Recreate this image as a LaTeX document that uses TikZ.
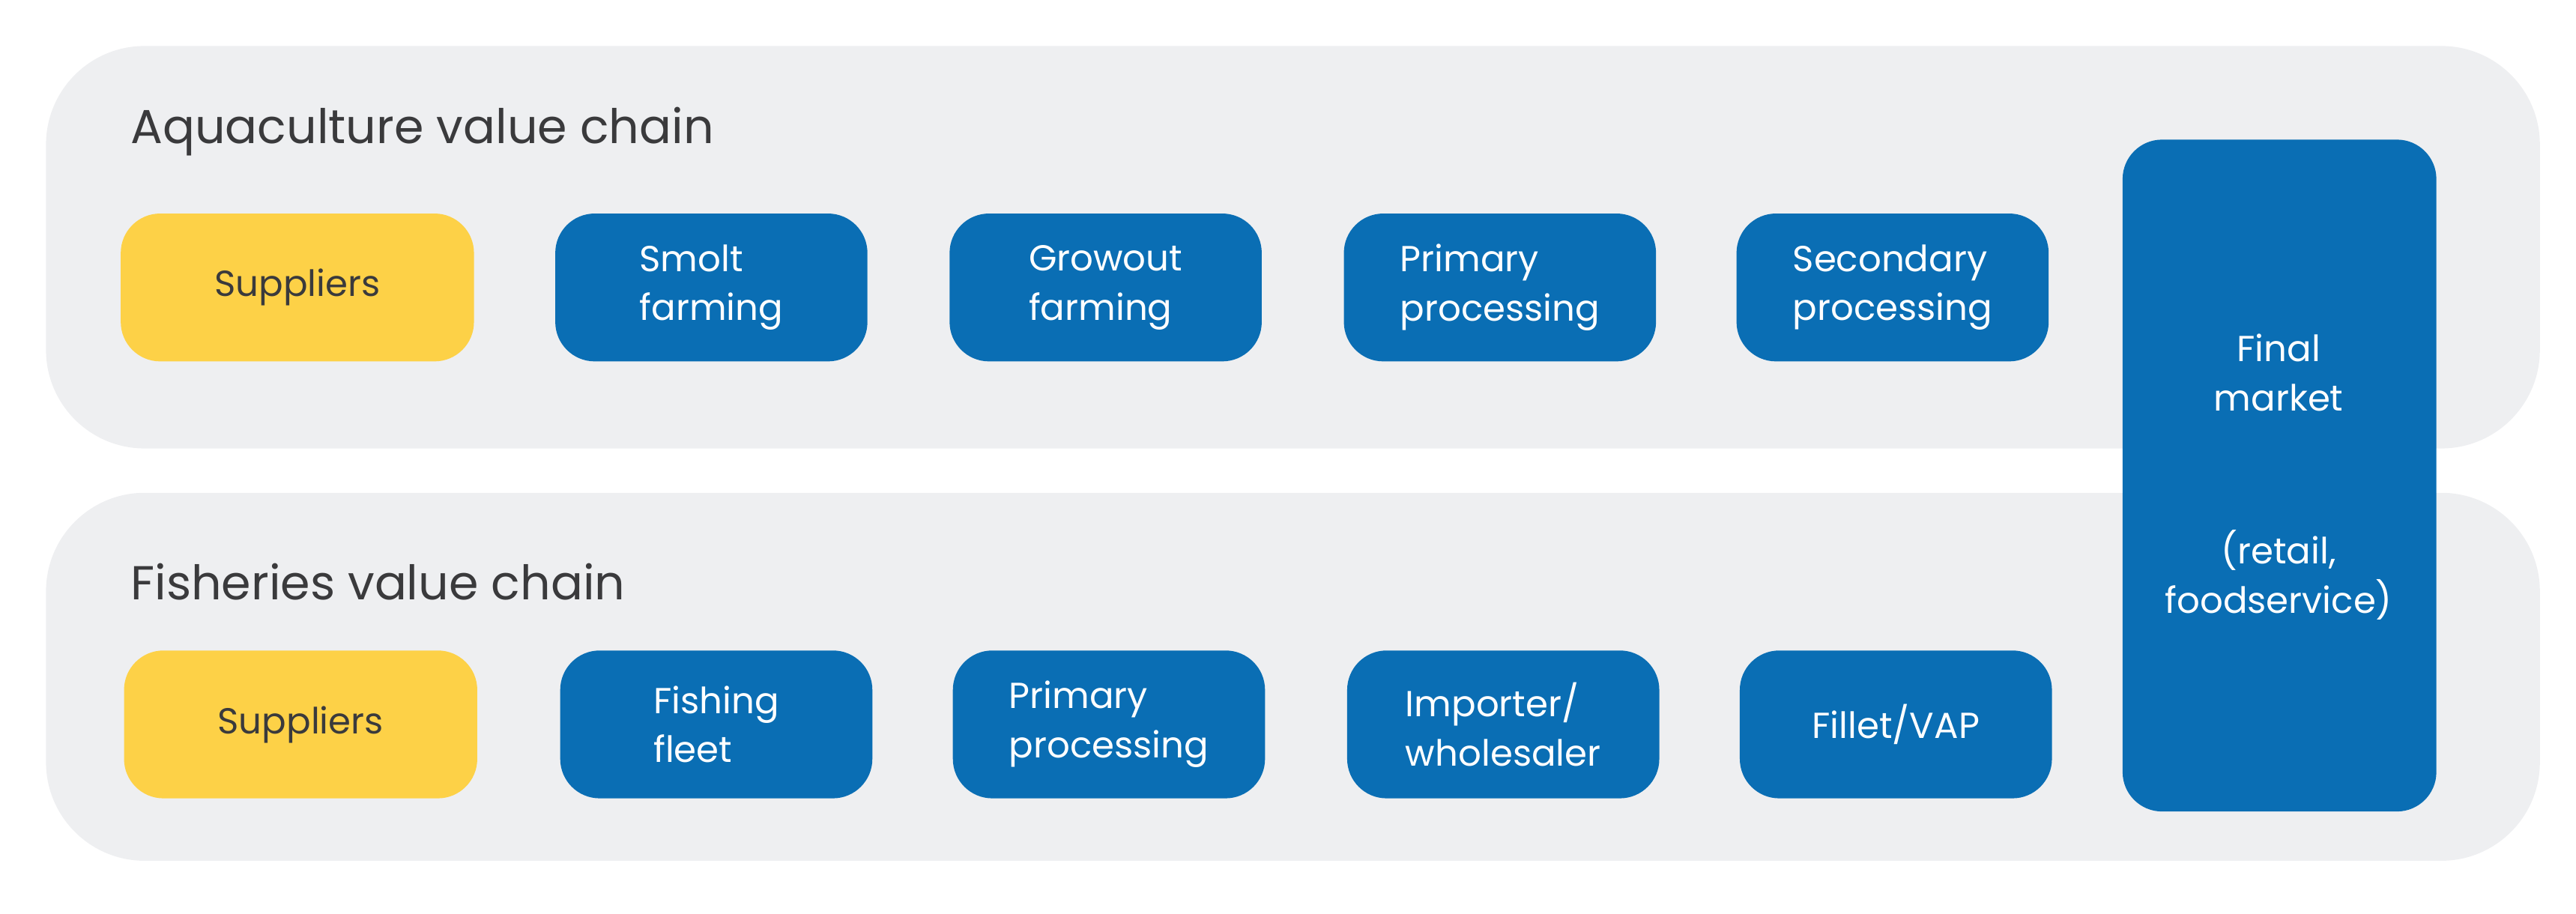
\documentclass[tikz,border=0pt]{standalone}
\usepackage{fontspec}
\setmainfont{Poppins}
\definecolor{band}{HTML}{EEEFF1}
\definecolor{blu}{HTML}{0A6EB4}
\definecolor{yel}{HTML}{FDD147}
\definecolor{txt}{HTML}{3A3A3C}
\begin{document}
\begin{tikzpicture}[x=1pt,y=-1pt,
  bandbox/.style={fill=band,rounded corners=60pt},
  bluebox/.style={fill=blu,rounded corners=24pt,text=white,align=left,font=\fontsize{22}{30}\selectfont,minimum width=190pt,minimum height=90pt,inner sep=0pt},
  yelbox/.style={fill=yel,rounded corners=24pt,text=txt,font=\fontsize{22}{30}\selectfont,minimum width=215pt,minimum height=90pt,inner sep=0pt},
  title/.style={anchor=west,text=txt,font=\fontsize{29}{34}\selectfont}]
\useasboundingbox (0,0) rectangle (1568,556);
\fill[bandbox] (28,28) rectangle (1546,273);
\fill[bandbox] (28,300) rectangle (1546,524);
\node[title] (t1) at (76,80) {Aquaculture value chain};
\node[title] (t2) at (76,354) {Fisheries value chain};
\node[yelbox] (s1) at (181,175) {Suppliers};
\node[bluebox] (a1) at (433,175) {Smolt\\farming};
\node[bluebox] (a2) at (673,175) {Growout\\farming};
\node[bluebox] (a3) at (913,175) {Primary\\processing};
\node[bluebox] (a4) at (1152,175) {Secondary\\processing};
\node[yelbox] (s2) at (183,441) {Suppliers};
\node[bluebox] (b1) at (436,441) {Fishing\\fleet};
\node[bluebox] (b2) at (675,441) {Primary\\processing};
\node[bluebox] (b3) at (915,441) {Importer/\\wholesaler};
\node[bluebox] (b4) at (1154,441) {Fillet/VAP};
\fill[blu,rounded corners=24pt] (1292,85) rectangle (1483,494);
\node[text=white,align=center,font=\fontsize{22}{30}\selectfont] (f1) at (1387,227) {Final\\market};
\node[text=white,align=center,font=\fontsize{22}{30}\selectfont] (f2) at (1387,350) {(retail,\\foodservice)};
\end{tikzpicture}
\end{document}
